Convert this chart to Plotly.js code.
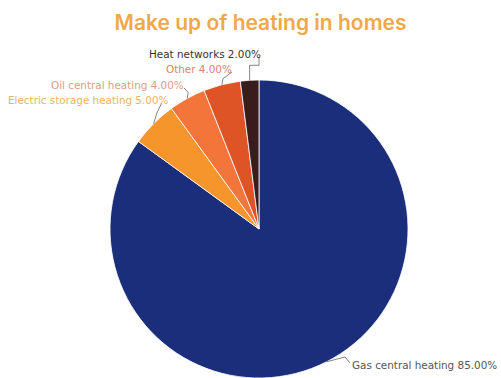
<!DOCTYPE html>
<html>
<head>
<meta charset="utf-8">
<script src="https://cdn.plot.ly/plotly-3.0.1.min.js"></script>
<style>html,body{margin:0;padding:0;background:#fff;}#chart{width:501px;height:378px;}</style>
</head>
<body>
<div id="chart"></div>
<script>
const categories = ["Gas central heating", "Electric storage heating", "Oil central heating", "Other", "Heat networks"];
const shares = [85, 5, 4, 4, 2];
const sliceColors = ["#1b2e7b", "#f7952d", "#f3753a", "#df5427", "#3a1c1c"];
const labelColors = ["#555555", "#f0b263", "#e39a85", "#d98270", "#333333"];

const W = 501, H = 378;
const cx = 259, cy = 229, R = 149;

// text anchor positions (pixels) for labels
const labelPos = [
  {x: 350, y: 365, anchor: "left"},
  {x: 6, y: 100, anchor: "left"},
  {x: 186, y: 85, anchor: "right"},
  {x: 234, y: 69, anchor: "right"},
  {x: 263, y: 54, anchor: "right"}
];

const total = shares.reduce((a, b) => a + b, 0);
let cum = 0;
const annotations = [];
const shapes = [];
const px = x => x / W, py = y => 1 - y / H;

shares.forEach((v, i) => {
  const mid = (cum + v / 2) / total * 2 * Math.PI;
  cum += v;
  const ex = cx + R * Math.sin(mid), ey = cy - R * Math.cos(mid);
  const lp = labelPos[i];
  annotations.push({
    xref: "paper", yref: "paper", x: px(lp.x), y: py(lp.y),
    xanchor: lp.anchor, yanchor: "middle", showarrow: false,
    text: categories[i] + " " + v.toFixed(2) + "%",
    font: {family: "DejaVu Sans, sans-serif", size: 10.4, color: labelColors[i]}
  });
  let path;
  if (i === 0) {
    path = `M${px(ex)},${py(ey)} L${px(lp.x - 5)},${py(lp.y - 8)} L${px(lp.x)},${py(lp.y - 2)}`;
  } else if (i === 4) {
    path = `M${px(ex)},${py(ey)} L${px(ex)},${py(ey - 15)} L${px(lp.x - 4)},${py(ey - 15)} L${px(lp.x - 4)},${py(lp.y + 3)}`;
  } else if (i === 1) {
    path = `M${px(ex)},${py(ey)} L${px(ex + 3)},${py(ey - 10)} L${px(ex + 8)},${py(lp.y + 3)}`;
  } else {
    path = `M${px(ex)},${py(ey)} L${px(ex + 1)},${py(ey - 6)} L${px(lp.x - 2)},${py(lp.y + 3)}`;
  }
  shapes.push({type: "path", xref: "paper", yref: "paper", path: path,
    line: {color: "#666666", width: 0.8}});
});

const data = [{
  type: "pie",
  labels: categories,
  values: shares,
  sort: false,
  direction: "clockwise",
  rotation: 0,
  textinfo: "none",
  hoverinfo: "label+percent",
  marker: {colors: sliceColors, line: {color: "#ffffff", width: 0.8}},
  domain: {x: [(cx - R) / W, (cx + R) / W], y: [Math.max(0, (H - cy - R) / H), (H - cy + R) / H]},
  showlegend: false
}];

const layout = {
  width: W, height: H,
  margin: {l: 0, r: 0, t: 0, b: 0},
  paper_bgcolor: "#ffffff",
  title: {text: "Make up of heating in homes", x: 0.52, xanchor: "center", y: 0.94, yanchor: "middle",
    font: {family: "Inter, Lato, sans-serif", size: 21, color: "#f0a848", weight: 600}},
  annotations: annotations,
  shapes: shapes
};

Plotly.newPlot("chart", data, layout, {displayModeBar: false, staticPlot: true});
</script>
</body>
</html>
